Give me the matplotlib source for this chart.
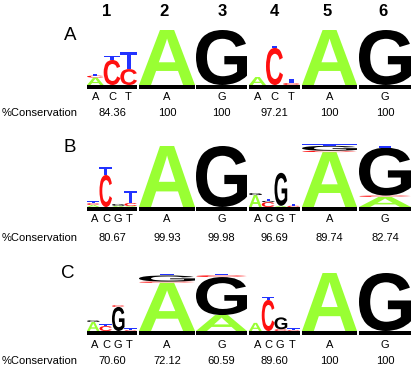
import matplotlib

matplotlib.use("Agg")

import matplotlib.pyplot as plt
from matplotlib.font_manager import FontProperties
from matplotlib.patches import PathPatch, Rectangle
from matplotlib.path import Path
from matplotlib.textpath import TextPath

# ---- data ---------------------------------------------------------------
POSITIONS = ["1", "2", "3", "4", "5", "6"]
PANEL_NAMES = ["A", "B", "C"]

SUBLABELS_A = [["A", "C", "T"], ["A"], ["G"], ["A", "C", "T"], ["A"], ["G"]]
SUBLABELS_B = [["A", "C", "G", "T"], ["A"], ["G"], ["A", "C", "G", "T"], ["A"], ["G"]]
SUBLABELS_C = [["A", "C", "G", "T"], ["A"], ["G"], ["A", "C", "G", "T"], ["A"], ["G"]]

CONSERVATION_A = ["84.36", "100", "100", "97.21", "100", "100"]
CONSERVATION_B = ["80.67", "99.93", "99.98", "96.69", "89.74", "82.74"]
CONSERVATION_C = ["70.60", "72.12", "60.59", "89.60", "100", "100"]

# letter stacks (bits), per position -> per sub-column -> bottom to top
STACKS_A = [
    [[("A", 0.27), ("C", 0.07), ("T", 0.07)],
     [("C", 0.91), ("T", 0.13)],
     [("C", 0.58), ("T", 0.62)]],
    [[("A", 2.0)]],
    [[("G", 2.0)]],
    [[("A", 0.29)],
     [("C", 1.35), ("T", 0.07)],
     [("C", 0.07), ("T", 0.16)]],
    [[("A", 2.0)]],
    [[("G", 2.0)]],
]

STACKS_B = [
    [[("A", 0.066), ("C", 0.06), ("T", 0.06)],
     [("C", 1.05), ("T", 0.25)],
     [("A", 0.04), ("G", 0.06)],
     [("A", 0.03), ("C", 0.1), ("T", 0.39)]],
    [[("A", 2.0)]],
    [[("G", 2.0)]],
    [[("A", 0.39), ("G", 0.07)],
     [("C", 0.16), ("G", 0.04), ("T", 0.07)],
     [("A", 0.04), ("G", 1.08)],
     [("C", 0.04), ("T", 0.07)]],
    [[("A", 1.8), ("C", 0.045), ("G", 0.16), ("T", 0.05)]],
    [[("A", 0.33), ("C", 0.045), ("G", 1.57), ("T", 0.05)]],
]

STACKS_C = [
    [[("A", 0.31), ("G", 0.06)],
     [("C", 0.17), ("T", 0.06)],
     [("G", 0.83), ("C", 0.06)],
     [("C", 0.03), ("T", 0.06)]],
    [[("A", 1.66), ("C", 0.045), ("G", 0.21), ("T", 0.045)]],
    [[("A", 0.55), ("G", 1.31), ("C", 0.06), ("T", 0.06)]],
    [[("A", 0.28)],
     [("C", 1.07), ("T", 0.1)],
     [("C", 0.06), ("G", 0.41)],
     [("C", 0.03), ("T", 0.06)]],
    [[("A", 2.0)]],
    [[("G", 2.0)]],
]

# ---- layout (pixels, y grows downwards) ---------------------------------
WIDTH, HEIGHT = 417, 369
COLUMN_SPANS = [(87, 137), (139, 195), (196, 247), (249, 300), (302, 357), (359, 411)]
HEADER_X = [107, 164, 222, 274, 327, 383]
PANEL_LAYOUT = {
    # baseline, px per bit, label position, sublabel y, conservation y
    "A": dict(base=85, scale=27.5, label=(70, 35), sub_y=97, cons_y=113),
    "B": dict(base=207, scale=30.5, label=(70, 147), sub_y=219, cons_y=238),
    "C": dict(base=331, scale=29.0, label=(68, 273), sub_y=345, cons_y=361),
}
LETTER_COLORS = {"A": "#99FF33", "C": "#FF1010", "G": "#000000", "T": "#2233FF"}
SUB_SPACING = {1: 0, 3: 16.5, 4: 11.5}

LOGO_FONT = FontProperties(family="Liberation Sans", weight="bold")
plt.rcParams["font.family"] = ["Liberation Sans", "DejaVu Sans"]


def draw_letter(ax, letter, x0, base, width, height, color):
    glyph = TextPath((0, 0), letter, size=1, prop=LOGO_FONT)
    ext = glyph.get_extents()
    verts = glyph.vertices.copy()
    verts[:, 0] = x0 + (verts[:, 0] - ext.x0) / ext.width * width
    verts[:, 1] = base - (verts[:, 1] - ext.y0) / ext.height * height
    ax.add_patch(PathPatch(Path(verts, glyph.codes), facecolor=color,
                           edgecolor="none", linewidth=0))


def draw_panel(ax, name, stacks, sublabels, conservation):
    cfg = PANEL_LAYOUT[name]
    base, scale = cfg["base"], cfg["scale"]
    ax.text(*cfg["label"], name, fontsize=13.5, ha="center", va="center")
    ax.text(2, cfg["cons_y"], "%Conservation", fontsize=8, ha="left", va="center")
    for (x0, x1), subcols, labels, cons in zip(COLUMN_SPANS, stacks, sublabels, conservation):
        ax.add_patch(Rectangle((x0, base), x1 - x0, 3.5, facecolor="black", edgecolor="none"))
        sub_w = (x1 - x0) / len(subcols)
        for i, stack in enumerate(subcols):
            y = base
            for letter, bits in stack:
                h = bits * scale
                draw_letter(ax, letter, x0 + i * sub_w, y, sub_w, h, LETTER_COLORS[letter])
                y -= h
        center = (x0 + x1) / 2
        spacing = SUB_SPACING[len(labels)]
        for i, lab in enumerate(labels):
            lx = center + (i - (len(labels) - 1) / 2) * spacing
            ax.text(lx, cfg["sub_y"], lab, fontsize=8, ha="center", va="center")
        ax.text(center, cfg["cons_y"], cons, fontsize=8, ha="center", va="center")


fig = plt.figure(figsize=(WIDTH / 100, HEIGHT / 100), dpi=100)
ax = fig.add_axes([0, 0, 1, 1])
ax.set_xlim(0, WIDTH)
ax.set_ylim(HEIGHT, 0)
ax.axis("off")

for x, pos in zip(HEADER_X, POSITIONS):
    ax.text(x, 12, pos, fontsize=12, fontweight="bold", ha="center", va="center")

draw_panel(ax, "A", STACKS_A, SUBLABELS_A, CONSERVATION_A)
draw_panel(ax, "B", STACKS_B, SUBLABELS_B, CONSERVATION_B)
draw_panel(ax, "C", STACKS_C, SUBLABELS_C, CONSERVATION_C)

fig.savefig("out.png", dpi=100, facecolor="white")
